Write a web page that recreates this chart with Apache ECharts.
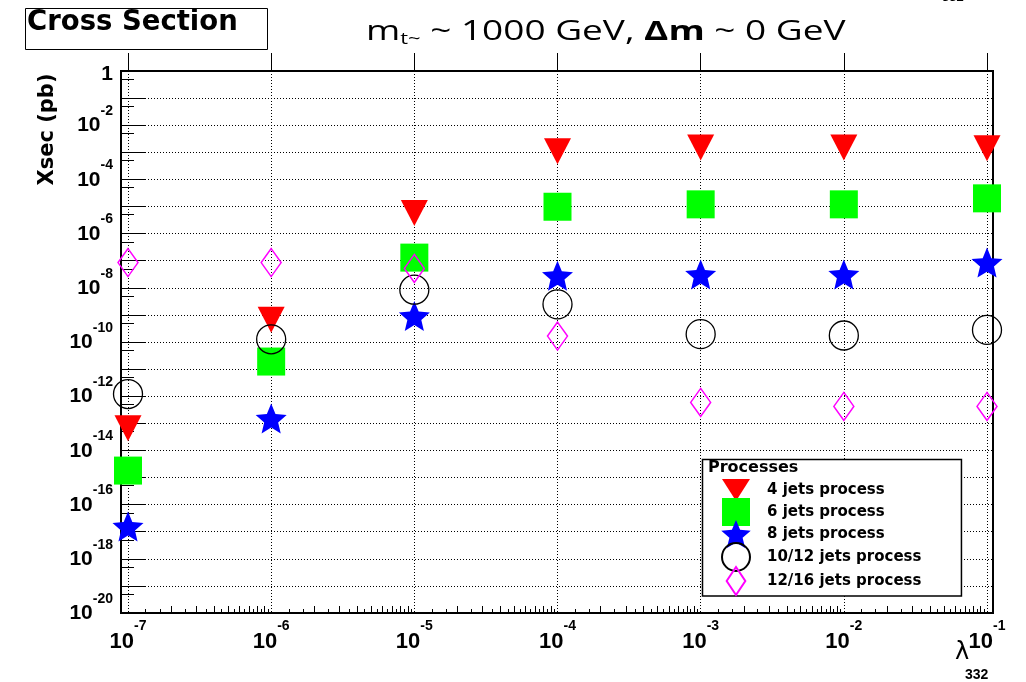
<!DOCTYPE html>
<html>
<head>
<meta charset="utf-8">
<script src="https://cdn.jsdelivr.net/npm/echarts@6/dist/echarts.min.js"></script>
<style>html,body{margin:0;padding:0;background:#fff}#c{width:1026px;height:682px}</style>
</head>
<body>
<div id="c"></div>
<script>
// ---- data ----
const lambdas   = [1e-7, 1e-6, 1e-5, 1e-4, 1e-3, 1e-2, 1e-1];
const xsec4     = [6.5e-14, 6.6e-10, 5.8e-6, 1.1e-3, 1.5e-3, 1.5e-3, 1.4e-3];
const xsec6     = [1.8e-15, 1.9e-11, 1.3e-7, 9.8e-6, 1.2e-5, 1.2e-5, 2.0e-5];
const xsec8     = [1.55e-17, 1.5e-13, 9.1e-10, 2.8e-8, 3.1e-8, 3.1e-8, 8.5e-8];
const xsec1012  = [1.2e-12, 1.26e-10, 8.5e-9, 2.45e-9, 1.95e-10, 1.74e-10, 2.8e-10];
const xsec1216  = [8.5e-8, 8.5e-8, 5.2e-8, 1.66e-10, 5.9e-13, 4.2e-13, 4.2e-13];
const seriesNames = ['4 jets process', '6 jets process', '8 jets process', '10/12 jets process', '12/16 jets process'];
// tick label exponents
const xDecades = [-7, -6, -5, -4, -3, -2, -1];
const yDecadeMin = -20, yDecadeMax = 0;
const xMinorFactors = [2, 3, 4, 5, 6, 7, 8, 9];
const xTinyFactors = [1.33, 1.67, 2.5, 3.5, 4.5, 5.5, 6.5, 7.5, 8.5, 9.5];
const yMinorFactor = 5;

// ---- helpers ----
const L = Math.log10;
const pts = arr => lambdas.map((x, i) => [L(x), L(arr[i])]);
const xMinor = [], xTiny = [], yMinor = [];
for (let n = xDecades[0]; n < xDecades[xDecades.length - 1]; n++) {
  xMinorFactors.forEach(k => xMinor.push(n + L(k)));
  xTinyFactors.forEach(k => xTiny.push(n + L(k)));
}
for (let n = yDecadeMin; n < yDecadeMax; n++) yMinor.push(n + L(yMinorFactor));

const TRI = 'path://M0,0L28,0L14,24Z';
const TRI_LEG = 'path://M0,3L28,3L14,25ZM14,0L14,0M14,28L14,28';
const STAR = 'path://M50,0L63.23,31.8L97.55,34.55L71.4,56.95L79.39,90.45L50,72.5L20.61,90.45L28.6,56.95L2.45,34.55L36.77,31.8Z';
const SQ = 'path://M0,0L28,0L28,28L0,28Z';
const DIA = 'path://M10,0L20,15L10,30L0,15Z';

const BOLD = {fontFamily: 'Liberation Sans', fontWeight: 'bold', color: '#000'};
const dotted = {color: '#000', width: 1, type: [1, 2]};

const chart = echarts.init(document.getElementById('c'), null, {renderer: 'canvas'});
chart.setOption({
  animation: false,
  backgroundColor: '#fff',
  title: [
    {
      text: 'Cross Section',
      left: 25, top: 8,
      padding: [1, 30, 13, 2],
      borderColor: '#000', borderWidth: 1,
      textStyle: {fontFamily: 'DejaVu Sans', fontWeight: 'bold', fontSize: 27.5, lineHeight: 28, color: '#000'}
    }
  ],
  grid: [
    {left: 121, width: 872, top: 71, height: 542, show: true, borderColor: '#000', borderWidth: 2, outerBoundsMode: 'none', containLabel: false},
    {left: 128, width: 859, top: 71, height: 542, outerBoundsMode: 'none', containLabel: false}
  ],
  xAxis: [
    {gridIndex: 0, type: 'value', min: 0, max: 1, show: false},
    {
      gridIndex: 1, type: 'value', min: xDecades[0], max: xDecades[xDecades.length - 1], interval: 1,
      position: 'bottom',
      axisLine: {show: false},
      axisTick: {show: true, inside: true, length: 18, lineStyle: {color: '#000', width: 1}},
      splitLine: {show: true, lineStyle: dotted},
      axisLabel: {
        margin: 6,
        formatter: v => '{b|10}{e|' + v + '}',
        rich: {
          b: Object.assign({fontSize: 22, lineHeight: 34, verticalAlign: 'bottom'}, BOLD),
          e: Object.assign({fontSize: 14, verticalAlign: 'top'}, BOLD)
        }
      }
    },
    {
      gridIndex: 1, type: 'value', min: xDecades[0], max: xDecades[xDecades.length - 1], position: 'bottom',
      axisLine: {show: false}, axisLabel: {show: false}, splitLine: {show: false},
      axisTick: {show: true, inside: true, length: 7, customValues: xMinor, lineStyle: {color: '#000', width: 1}}
    },
    {
      gridIndex: 1, type: 'value', min: xDecades[0], max: xDecades[xDecades.length - 1], position: 'bottom',
      axisLine: {show: false}, axisLabel: {show: false}, splitLine: {show: false},
      axisTick: {show: true, inside: true, length: 4, customValues: xTiny, lineStyle: {color: '#000', width: 1}}
    }
  ],
  yAxis: [
    {
      gridIndex: 0, type: 'value', min: yDecadeMin, max: yDecadeMax, interval: 1, position: 'left',
      axisLine: {show: false},
      axisTick: {show: true, inside: true, length: 25, lineStyle: {color: '#000', width: 1}},
      splitLine: {show: true, lineStyle: dotted},
      axisLabel: {
        margin: 8,
        padding: [0, 0, 10, 0],
        formatter: v => (v % 2 !== 0 ? '' : (v === 0 ? '{one|1}' : '{b|10}{e|' + v + '}')),
        rich: {
          b: Object.assign({fontSize: 21, lineHeight: 32, verticalAlign: 'bottom'}, BOLD),
          e: Object.assign({fontSize: 14, verticalAlign: 'top'}, BOLD),
          one: Object.assign({fontSize: 21, lineHeight: 37, verticalAlign: 'bottom'}, BOLD)
        }
      },
      name: 'Xsec (pb)',
      nameLocation: 'middle', nameRotate: 90, nameGap: 73, nameMoveOverlap: false,
      nameTextStyle: {fontFamily: 'DejaVu Sans', fontWeight: 'bold', fontSize: 21, color: '#000',
        align: 'center', verticalAlign: 'middle', padding: [0, 0, 0, 425]}
    },
    {
      gridIndex: 0, type: 'value', min: yDecadeMin, max: yDecadeMax, position: 'left',
      axisLine: {show: false}, axisLabel: {show: false}, splitLine: {show: false},
      axisTick: {show: true, inside: true, length: 13, customValues: yMinor, lineStyle: {color: '#000', width: 1}}
    },
    {gridIndex: 1, type: 'value', min: yDecadeMin, max: yDecadeMax, show: false}
  ],
  legend: {
    orient: 'vertical',
    left: 702.5, top: 459.5,
    itemWidth: 52, itemHeight: 28, itemGap: -6,
    padding: [16.5, 40, 0, 18.5],
    backgroundColor: '#fff', borderColor: '#000', borderWidth: 1.5, borderRadius: 0,
    selectedMode: false,
    textStyle: {fontFamily: 'DejaVu Sans', fontWeight: 'bold', fontSize: 15, color: '#000'},
    data: [
      {name: seriesNames[0], icon: TRI_LEG},
      {name: seriesNames[1], icon: SQ},
      {name: seriesNames[2], icon: STAR},
      {name: seriesNames[3], icon: 'circle'},
      {name: seriesNames[4], icon: DIA}
    ]
  },
  graphic: [
    {type: 'text', x: 366, y: 17.5, scaleX: 1.37, z: 100,
      style: {
        text: 'm{sub|t~} ~ 1000 GeV, {bd|Δm} ~ 0 GeV',
        fontFamily: 'Open Sans', fontSize: 27, lineHeight: 30, fill: '#000',
        rich: {
          sub: {fontFamily: 'Open Sans', fontSize: 16, verticalAlign: 'bottom', fill: '#000'},
          bd: {fontFamily: 'Open Sans', fontSize: 27, fontWeight: 'bold', fill: '#000'}
        }
      }},
    {type: 'text', left: 708, top: 460, z: 100,
      style: {text: 'Processes', fontFamily: 'DejaVu Sans', fontWeight: 'bold', fontSize: 16, fill: '#000'}},
    {type: 'text', x: 955, y: 641, z: 100,
      style: {text: 'λ', fontFamily: 'DejaVu Sans', fontSize: 24, fill: '#000'}},
    {type: 'text', x: 965, y: 668, z: 100,
      style: {text: '332', fontFamily: 'Liberation Sans', fontWeight: 'bold', fontSize: 14, fill: '#000'}},
    {type: 'text', x: 942, y: -9, z: 100,
      style: {text: '332', fontFamily: 'Liberation Sans', fontWeight: 'bold', fontSize: 13, fill: '#000'}}
  ],
  series: [
    {name: seriesNames[0], type: 'scatter', xAxisIndex: 1, yAxisIndex: 2, data: pts(xsec4),
      symbol: TRI, symbolSize: [27, 26], itemStyle: {color: '#ff0000', opacity: 1}, emphasis: {disabled: true}},
    {name: seriesNames[1], type: 'scatter', xAxisIndex: 1, yAxisIndex: 2, data: pts(xsec6),
      symbol: SQ, symbolSize: [28, 28], itemStyle: {color: '#00ff00', opacity: 1}, emphasis: {disabled: true}},
    {name: seriesNames[2], type: 'scatter', xAxisIndex: 1, yAxisIndex: 2, data: pts(xsec8),
      symbol: STAR, symbolSize: [31, 30], itemStyle: {color: '#0000ff', opacity: 1}, emphasis: {disabled: true}},
    {name: seriesNames[3], type: 'scatter', xAxisIndex: 1, yAxisIndex: 2, data: pts(xsec1012),
      symbol: 'circle', symbolSize: 29, itemStyle: {color: 'rgba(0,0,0,0)', borderColor: '#000', borderWidth: 1.3, opacity: 1}, emphasis: {disabled: true}},
    {name: seriesNames[4], type: 'scatter', xAxisIndex: 1, yAxisIndex: 2, data: pts(xsec1216),
      symbol: DIA, symbolSize: [20, 28], itemStyle: {color: 'rgba(0,0,0,0)', borderColor: '#ff00ff', borderWidth: 1.5, opacity: 1}, emphasis: {disabled: true}}
  ]
});
</script>
</body>
</html>
